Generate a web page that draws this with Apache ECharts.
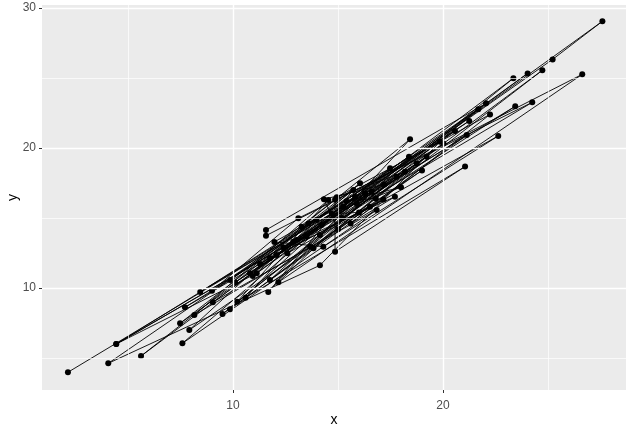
<!DOCTYPE html>
<html>
<head>
<meta charset="utf-8">
<script src="https://cdn.jsdelivr.net/npm/echarts@6/dist/echarts.min.js"></script>
<style>
html,body{margin:0;padding:0;background:#fff;}
#chart{width:636px;height:435px;}
</style>
</head>
<body>
<div id="chart"></div>
<script>
// Data (points in path order)
const xs = [2.14,15.25,8.44,20.57,11.13,4.44,14.22,7.59,16.84,9.04,
            27.59,25.22,12.87,4.44,13.98,10.60,21.05,14.86,14.86,9.87,
            22.05,11.57,11.57,26.63,12.16,18.38,4.06,14.14,19.86,7.48,
            16.05,10.94,24.03,13.03,5.62,15.73,11.68,18.43,13.27,7.92,
            16.52,12.08,23.35,9.50,17.16,11.29,21.68,13.67,8.16,14.54,
            10.20,17.79,11.76,24.25,13.11,9.00,17.48,12.59,22.63,14.30,
            11.97,15.81,9.86,21.13,13.51,7.71,16.60,10.10,19.22,14.14,
            24.73,11.76,16.29,10.81,20.02,13.83,18.75,15.20,23.44,12.40,
            17.71,15.60,22.24,14.94,18.19,13.60,21.25,14.70,16.00,19.00,
            15.00,14.33,17.20,15.90,18.00,15.40,16.80];
const ys = [3.98,15.81,9.72,21.21,11.05,6.00,14.50,6.05,15.57,8.99,
            29.05,26.33,13.31,6.00,14.86,9.31,18.67,12.59,16.30,10.57,
            23.19,14.14,13.74,25.26,10.41,19.38,4.62,11.62,20.45,7.48,
            17.48,10.86,25.33,13.43,5.14,17.00,9.71,20.62,14.38,7.00,
            15.81,12.36,24.98,8.14,16.33,11.71,22.76,12.95,8.07,16.29,
            9.02,17.95,12.12,23.26,14.98,9.80,18.55,12.48,20.86,12.95,
            13.29,16.52,8.48,20.93,13.67,8.62,16.88,10.40,19.38,13.79,
            25.55,10.57,16.76,11.05,20.33,12.84,18.90,15.00,22.98,12.90,
            16.52,14.60,22.40,16.48,18.31,14.60,21.93,15.30,15.40,18.40,
            14.20,16.34,17.40,16.00,17.20,16.20,16.40];
const xTicks = [10, 20];
const yTicks = [10, 20, 30];
const xMinor = [5, 15, 25];
const yMinor = [5, 15, 25];

const X_MIN = 0.905, X_MAX = 28.714, Y_MIN = 2.714, Y_MAX = 30.214;

const points = xs.map((x, i) => [x, ys[i]]);

const gridLines = [];
xMinor.forEach(v => gridLines.push({xAxis: v, lineStyle: {width: 0.7}}));
yMinor.forEach(v => gridLines.push({yAxis: v, lineStyle: {width: 0.7}}));
xTicks.forEach(v => gridLines.push({xAxis: v, lineStyle: {width: 1.4}}));
yTicks.forEach(v => gridLines.push({yAxis: v, lineStyle: {width: 1.4}}));

const chart = echarts.init(document.getElementById('chart'), null, {renderer: 'canvas'});
const axisFont = {color: '#4D4D4D', fontSize: 12, fontFamily: 'Liberation Sans, Arial, sans-serif'};
chart.setOption({
  animation: false,
  backgroundColor: '#FFFFFF',
  grid: {left: 42, right: 10, top: 5, bottom: 45, show: true, backgroundColor: '#EBEBEB', borderWidth: 0,
         containLabel: false, outerBoundsMode: 'none'},
  xAxis: {
    type: 'value', min: X_MIN, max: X_MAX,
    name: 'x', nameLocation: 'middle', nameGap: 23, nameMoveOverlap: false,
    nameTextStyle: {color: '#000', fontSize: 14, fontFamily: 'Liberation Sans, Arial, sans-serif'},
    axisLine: {show: false},
    axisTick: {show: true, length: 3, lineStyle: {color: '#333333', width: 1}, customValues: xTicks},
    axisLabel: Object.assign({margin: 10, customValues: xTicks}, axisFont),
    splitLine: {show: false}
  },
  yAxis: {
    type: 'value', min: Y_MIN, max: Y_MAX,
    name: 'y', nameLocation: 'middle', nameGap: 22, nameMoveOverlap: false,
    nameTextStyle: {color: '#000', fontSize: 14, fontFamily: 'Liberation Sans, Arial, sans-serif'},
    axisLine: {show: false},
    axisTick: {show: true, length: 3, lineStyle: {color: '#333333', width: 1}, customValues: yTicks},
    axisLabel: Object.assign({margin: 6, customValues: yTicks}, axisFont),
    splitLine: {show: false}
  },
  series: [
    {
      type: 'line', data: [], z: 1, silent: true,
      markLine: {silent: true, symbol: ['none', 'none'], label: {show: false},
        lineStyle: {color: '#FFFFFF', type: 'solid'}, animation: false, data: gridLines}
    },
    {
      type: 'line', data: points, z: 2,
      symbol: 'circle', symbolSize: 6,
      itemStyle: {color: '#000000'},
      lineStyle: {color: '#000000', width: 0.9},
      showSymbol: true
    }
  ]
});
</script>
</body>
</html>
